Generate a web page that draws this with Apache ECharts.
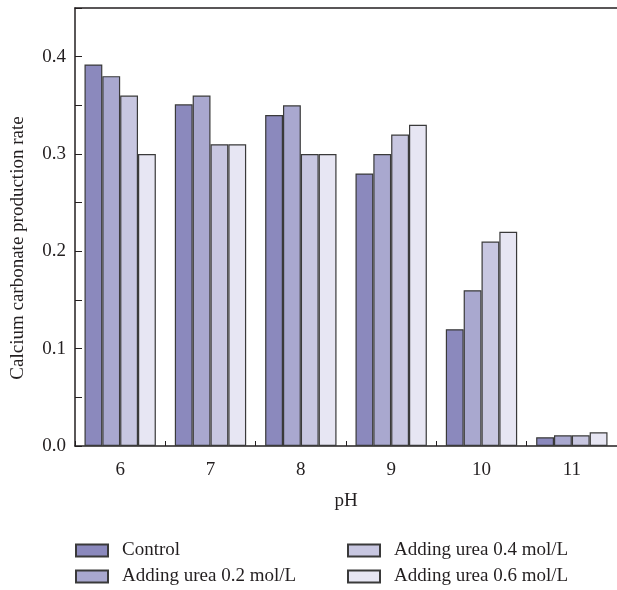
<!DOCTYPE html>
<html>
<head>
<meta charset="utf-8">
<script src="https://cdn.jsdelivr.net/npm/echarts@6/dist/echarts.min.js"></script>
<style>html,body{margin:0;padding:0;background:#fff;}#c{width:617px;height:590px;}</style>
</head>
<body>
<div id="c"></div>
<script>
var categories = ['6', '7', '8', '9', '10', '11'];
var seriesNames = ['Control', 'Adding urea 0.2 mol/L', 'Adding urea 0.4 mol/L', 'Adding urea 0.6 mol/L'];
var control = [0.392, 0.351, 0.340, 0.280, 0.120, 0.009];
var urea02 = [0.380, 0.360, 0.350, 0.300, 0.160, 0.011];
var urea04 = [0.360, 0.310, 0.300, 0.320, 0.210, 0.011];
var urea06 = [0.300, 0.310, 0.300, 0.330, 0.220, 0.014];
var seriesData = [control, urea02, urea04, urea06];
var colors = ['#8b89bd', '#a9a8cf', '#c8c7e1', '#e7e6f3'];

var font = 'Liberation Serif';
var textColor = '#231f20';
var fs = 19;

var chart = echarts.init(document.getElementById('c'));
var series = seriesNames.map(function (n, i) {
  return {
    name: n,
    type: 'bar',
    data: seriesData[i],
    barGap: '0%',
    barCategoryGap: '21%',
    itemStyle: { color: colors[i], borderColor: '#3a3a3a', borderWidth: 1.2 }
  };
});
var legendPos = [[75, 541], [75, 567], [347, 541], [347, 567]];
var legends = seriesNames.map(function (n, i) {
  return {
    data: [n],
    left: legendPos[i][0],
    top: legendPos[i][1],
    padding: 0,
    icon: 'rect',
    itemWidth: 32,
    itemHeight: 12,
    textStyle: { fontFamily: font, fontSize: fs, color: textColor, padding: [0, 0, 0, 9] }
  };
});
chart.setOption({
  animation: false,
  textStyle: { fontFamily: font },
  grid: { left: 75, top: 8, width: 546, height: 438 },
  xAxis: [{
    type: 'category',
    data: categories,
    name: 'pH',
    nameLocation: 'middle',
    nameGap: 46,
    nameTextStyle: { fontFamily: font, fontSize: fs, color: textColor },
    axisLine: { lineStyle: { color: '#231f20', width: 1.5 } },
    axisTick: { show: true, inside: true, length: 5, interval: 0, lineStyle: { color: '#231f20' } },
    axisLabel: { fontFamily: font, fontSize: fs, color: textColor, margin: 15 }
  }, {
    type: 'category',
    position: 'top',
    data: categories,
    axisLine: { lineStyle: { color: '#231f20', width: 1.5 } },
    axisTick: { show: false },
    axisLabel: { show: false }
  }],
  yAxis: {
    type: 'value',
    min: 0,
    max: 0.45,
    interval: 0.1,
    name: 'Calcium carbonate production rate',
    nameLocation: 'middle',
    nameGap: 47,
    nameTextStyle: { fontFamily: font, fontSize: fs, color: textColor, padding: [0, 42, 0, 0] },
    axisLine: { show: true, lineStyle: { color: '#231f20', width: 1.5 } },
    axisTick: { show: true, inside: true, length: 7, lineStyle: { color: '#231f20' } },
    minorTick: { show: true, splitNumber: 2, length: 7, lineStyle: { color: '#231f20' } },
    splitLine: { show: false },
    axisLabel: {
      fontFamily: font, fontSize: fs, color: textColor, margin: 9,
      formatter: function (v) {
        var r = Math.round(v * 10) / 10;
        if (Math.abs(r - v) > 1e-6) return '';
        return r.toFixed(1);
      }
    }
  },
  legend: legends,
  series: series
});
</script>
</body>
</html>
